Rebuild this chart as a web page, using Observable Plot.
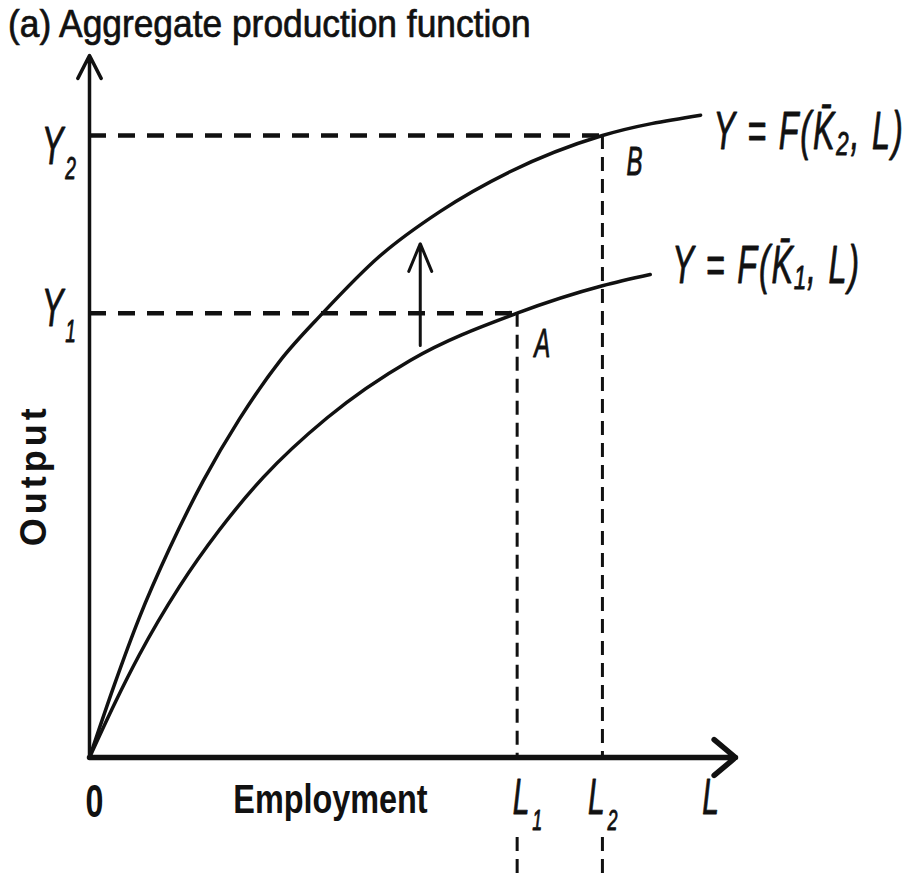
<!DOCTYPE html>
<html><head><meta charset="utf-8">
<script src="https://cdn.jsdelivr.net/npm/d3@7"></script>
<script src="https://cdn.jsdelivr.net/npm/@observablehq/plot@0.6"></script>
<style>
body{margin:0;background:#fff;}
#title{height:40px;overflow:visible;white-space:nowrap;}
#title span{display:inline-block;font-family:"Liberation Sans",Arial,sans-serif;font-size:38px;line-height:48px;margin-left:8px;transform:scaleX(0.93);transform-origin:0 50%;color:#111;-webkit-text-stroke:0.7px #111;}
#chart svg{overflow:visible;display:block;}
</style></head><body>
<div id="title"><span>(a) Aggregate production function</span></div>
<div id="chart"></div>
<script>
// ---- data (units: L 0..10, Y 0..10) ----
const upperL = [0, 0.39, 0.77, 1.24, 1.76, 2.32, 2.94, 3.61, 4.49, 5.43, 6.50, 7.94, 9.46];
const upperY = [0, 1.05, 1.99, 2.98, 3.94, 4.82, 5.64, 6.33, 7.14, 7.78, 8.34, 8.86, 9.15];
const lowerL = [0, 0.39, 0.77, 1.39, 2.01, 2.69, 3.68, 4.97, 6.62, 7.94, 8.68];
const lowerY = [0, 0.77, 1.46, 2.43, 3.24, 3.99, 4.84, 5.66, 6.33, 6.72, 6.88];
const curveLabels = ["Y = F(K\u0304\u2082, L)", "Y = F(K\u0304\u2081, L)"];
const Y1 = 6.33, Y2 = 8.86;        // output levels
const L1 = 6.62, L2 = 7.94;        // employment levels
const xMax = 10, yMax = 10;
const dashGap = -1.14, yFloor = -1.74;   // dashed drops resume below the tick labels
const shift = {x: 5.12, from: 5.87, to: 7.32};
const tickMain = ["Y", "L", "0"];
const tickSubs = ["1", "2"];
const pointNames = ["A", "B"];
const xTitle = {text: "Employment", at: 3.73};
const yTitle = {text: "Output", at: 4.02};

const upper = upperL.map((l, i) => ({l, y: upperY[i]}));
const lower = lowerL.map((l, i) => ({l, y: lowerY[i]}));
const hDash = [{y: Y2, x1: 0, x2: L2}, {y: Y1, x1: 0, x2: L1}];
const vDash = [
  {x: L1, y1: Y1, y2: 0}, {x: L2, y1: Y2, y2: 0},
  {x: L1, y1: dashGap, y2: yFloor}, {x: L2, y1: dashGap, y2: yFloor}
];

const SANS = '"Liberation Sans", Arial, sans-serif';
function lab(x, y, text, o) {
  return Plot.text([{x, y, text}], {
    x: "x", y: "y", text: "text",
    fontFamily: SANS, fill: "#111",
    fontSize: o.size, fontStyle: o.italic ? "italic" : "normal",
    fontWeight: o.bold ? "bold" : "normal",
    textAnchor: o.anchor || "middle", lineAnchor: "middle",
    dx: o.dx || 0, dy: o.dy || 0, rotate: o.rotate || 0,
    stroke: o.heavy ? "#111" : undefined, strokeWidth: o.heavy ? o.heavy : undefined,
    ariaDescription: `sx:${o.sx || 1};ls:${o.ls || 0}`
  });
}
const it = {italic: true, sx: 0.6, heavy: 0.9};

const plot = Plot.plot({
  width: 912, height: 839,
  marginLeft: 89, marginRight: 177, marginTop: 15, marginBottom: 122,
  x: {domain: [0, xMax], axis: null},
  y: {domain: [0, yMax], axis: null},
  style: {background: "white", overflow: "visible"},
  marks: [
    Plot.ruleY(hDash, {y: "y", x1: "x1", x2: "x2", stroke: "#111", strokeWidth: 4.5, strokeDasharray: "17,12"}),
    Plot.ruleX(vDash, {x: "x", y1: "y1", y2: "y2", stroke: "#111", strokeWidth: 3, strokeDasharray: "14,8"}),
    Plot.line(upper, {x: "l", y: "y", curve: "monotone-x", stroke: "#111", strokeWidth: 3.5}),
    Plot.line(lower, {x: "l", y: "y", curve: "monotone-x", stroke: "#111", strokeWidth: 3.5}),
    Plot.arrow([{x1: 0, y1: 0, x2: 0, y2: yMax}], {x1: "x1", y1: "y1", x2: "x2", y2: "y2", stroke: "#111", strokeWidth: 3.5, headLength: 11, headAngle: 54}),
    Plot.arrow([{x1: 0, y1: 0, x2: xMax, y2: 0}], {x1: "x1", y1: "y1", x2: "x2", y2: "y2", stroke: "#111", strokeWidth: 5.5, headLength: 7.6, headAngle: 80}),
    Plot.arrow([shift], {x1: "x", y1: "from", x2: "x", y2: "to", stroke: "#111", strokeWidth: 3, headLength: 15, headAngle: 45}),
    // y tick labels
    lab(0, Y2, tickMain[0], {...it, size: 54, dx: -37, dy: 11}),
    lab(0, Y2, tickSubs[1], {...it, size: 32, dx: -19, dy: 33}),
    lab(0, Y1, tickMain[0], {...it, size: 54, dx: -37, dy: -4}),
    lab(0, Y1, tickSubs[0], {...it, size: 32, dx: -19, dy: 19}),
    // x tick labels
    lab(L1, 0, tickMain[1], {...it, size: 50, dx: 4, dy: 40}),
    lab(L1, 0, tickSubs[0], {...it, size: 30, dx: 20, dy: 63}),
    lab(L2, 0, tickMain[1], {...it, size: 50, dx: -6, dy: 40}),
    lab(L2, 0, tickSubs[1], {...it, size: 30, dx: 10, dy: 63}),
    lab(xMax, 0, tickMain[1], {...it, size: 50, dx: -25, dy: 40}),
    lab(0, 0, tickMain[2], {bold: true, sx: 0.7, size: 46, dx: 5, dy: 45}),
    // axis titles
    lab(xTitle.at, 0, xTitle.text, {bold: true, sx: 0.81, size: 40, dy: 43}),
    lab(0, yTitle.at, yTitle.text, {bold: true, sx: 1, size: 36, dx: -55, rotate: -90, ls: 4}),
    // points
    lab(L1, Y1, pointNames[0], {...it, size: 40, dx: 25, dy: 31}),
    lab(L2, Y2, pointNames[1], {...it, size: 40, dx: 32, dy: 27}),
    // curve labels
    lab(upperL[upperL.length - 1], upperY[upperY.length - 1], curveLabels[0], {...it, size: 54, anchor: "start", dx: 13, dy: 17, ls: 3}),
    lab(lowerL[lowerL.length - 1], lowerY[lowerY.length - 1], curveLabels[1], {...it, size: 54, anchor: "start", dx: 22, dy: -9, ls: 3})
  ]
});

// condense the typeface horizontally around each label's anchor; apply letter spacing
plot.querySelectorAll("g[aria-description]").forEach(g => {
  const d = g.getAttribute("aria-description") || "";
  const sx = +((/sx:([\d.]+)/.exec(d) || [0, 1])[1]);
  const ls = +((/ls:([\d.]+)/.exec(d) || [0, 0])[1]);
  g.querySelectorAll("text").forEach(t => {
    if (ls) t.setAttribute("letter-spacing", ls);
    if (sx === 1) return;
    let tr = t.getAttribute("transform");
    if (!tr) {
      const x = t.getAttribute("x") || 0, y = t.getAttribute("y") || 0;
      t.removeAttribute("x"); t.removeAttribute("y");
      tr = `translate(${x},${y})`;
    }
    t.setAttribute("transform", tr + ` scale(${sx},1)`);
  });
});
document.getElementById("chart").appendChild(plot);
</script>
</body></html>
